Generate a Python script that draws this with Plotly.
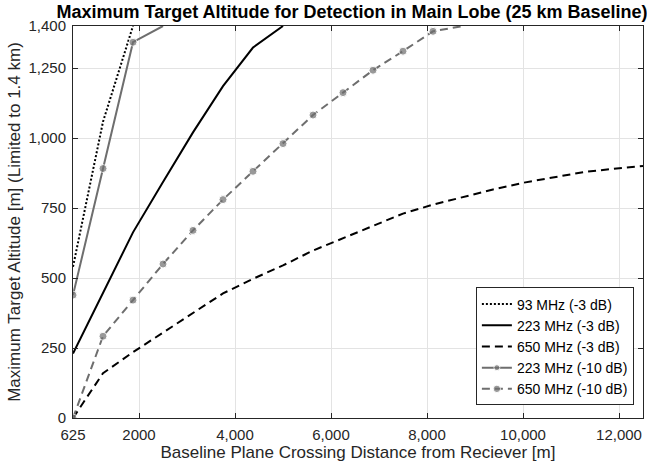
import plotly.graph_objects as go

# Baseline plane crossing distance [m]
dist = [625, 1250, 1875, 2500, 3125, 3750, 4375, 5000, 5625, 6250,
        6875, 7500, 8125, 8750, 9375, 10000, 10625, 11250, 11875, 12500]

# Maximum target altitude [m] (limited to 1400 m)
alt_93_3db = [540, 1058, 1400]
alt_223_3db = [230, 446, 663, 843, 1020, 1185, 1323, 1400]
alt_650_3db = [0, 160, 235, 305, 375, 445, 497, 545, 598, 642,
               688, 730, 762, 790, 816, 840, 860, 878, 890, 900]
alt_223_10db = [439, 891, 1342, 1400]
alt_650_10db = [0, 292, 421, 550, 670, 780, 881, 980, 1082, 1162,
                1242, 1310, 1381, 1400]

x_tickvals = [625, 2000, 4000, 6000, 8000, 10000, 12000]
x_ticktext = ["625", "2000", "4,000", "6,000", "8,000", "10,000", "12,000"]
y_tickvals = [0, 250, 500, 750, 1000, 1250, 1400]
y_ticktext = ["0", "250", "500", "750", "1,000", "1,250", "1,400"]

FONT = "Liberation Sans, Arial, Helvetica, sans-serif"
AX = "#262626"
GRAY = "#6e6e6e"


def msizes(vals):
    return [8 if v < 1400 else 0 for v in vals]


fig = go.Figure()
fig.add_trace(go.Scatter(x=dist[:len(alt_93_3db)], y=alt_93_3db, mode="lines",
                         name="93 MHz (-3 dB)",
                         line=dict(color="black", width=2, dash="2px,2px")))
fig.add_trace(go.Scatter(x=dist[:len(alt_223_3db)], y=alt_223_3db, mode="lines",
                         name="223 MHz (-3 dB)",
                         line=dict(color="black", width=2)))
fig.add_trace(go.Scatter(x=dist[:len(alt_650_3db)], y=alt_650_3db, mode="lines",
                         name="650 MHz (-3 dB)",
                         line=dict(color="black", width=2, dash="8px,5px")))
fig.add_trace(go.Scatter(x=dist[:len(alt_223_10db)], y=alt_223_10db, mode="lines+markers",
                         name="223 MHz (-10 dB)",
                         line=dict(color=GRAY, width=2),
                         marker=dict(color=GRAY, size=msizes(alt_223_10db), symbol="circle")))
fig.add_trace(go.Scatter(x=dist[:len(alt_650_10db)], y=alt_650_10db, mode="lines+markers",
                         name="650 MHz (-10 dB)",
                         line=dict(color=GRAY, width=2, dash="8px,5px"),
                         marker=dict(color=GRAY, size=msizes(alt_650_10db), symbol="circle")))

axis_common = dict(
    showline=True, linecolor=AX, linewidth=1, mirror="ticks",
    ticks="inside", ticklen=5, tickcolor=AX, tickwidth=1,
    showgrid=True, gridcolor="#e3e3e3", gridwidth=1, zeroline=False,
    tickfont=dict(family=FONT, size=15, color=AX),
)

fig.update_layout(
    width=647, height=466,
    margin=dict(l=73, r=4, t=26, b=48),
    paper_bgcolor="white", plot_bgcolor="white",
    font=dict(family=FONT, color=AX),
    title=dict(text="Maximum Target Altitude for Detection in Main Lobe (25 km Baseline)",
               font=dict(family=FONT, size=18, color="black", weight="bold"),
               x=352 / 647, xanchor="center", xref="container",
               y=1 - 12 / 466, yanchor="middle", yref="container"),
    xaxis=dict(range=[625, 12500], tickvals=x_tickvals, ticktext=x_ticktext,
               ticklabelstandoff=3,
               title=dict(text="Baseline Plane Crossing Distance from Reciever [m]",
                          font=dict(family=FONT, size=17, color=AX), standoff=0),
               **axis_common),
    yaxis=dict(range=[0, 1400], tickvals=y_tickvals, ticktext=y_ticktext,
               ticklabelstandoff=3,
               title=dict(text="Maximum Target Altitude [m] (Limited to 1.4 km)",
                          font=dict(family=FONT, size=17, color=AX), standoff=3),
               **axis_common),
    legend=dict(x=0.984, y=0.032, xanchor="right", yanchor="bottom",
                bgcolor="white", bordercolor=AX, borderwidth=1,
                font=dict(family=FONT, size=14, color="black"),
                tracegroupgap=0),
    showlegend=True,
)

fig.write_html("out.html", config={"displayModeBar": False},
               post_script="document.body.style.margin='0';")
